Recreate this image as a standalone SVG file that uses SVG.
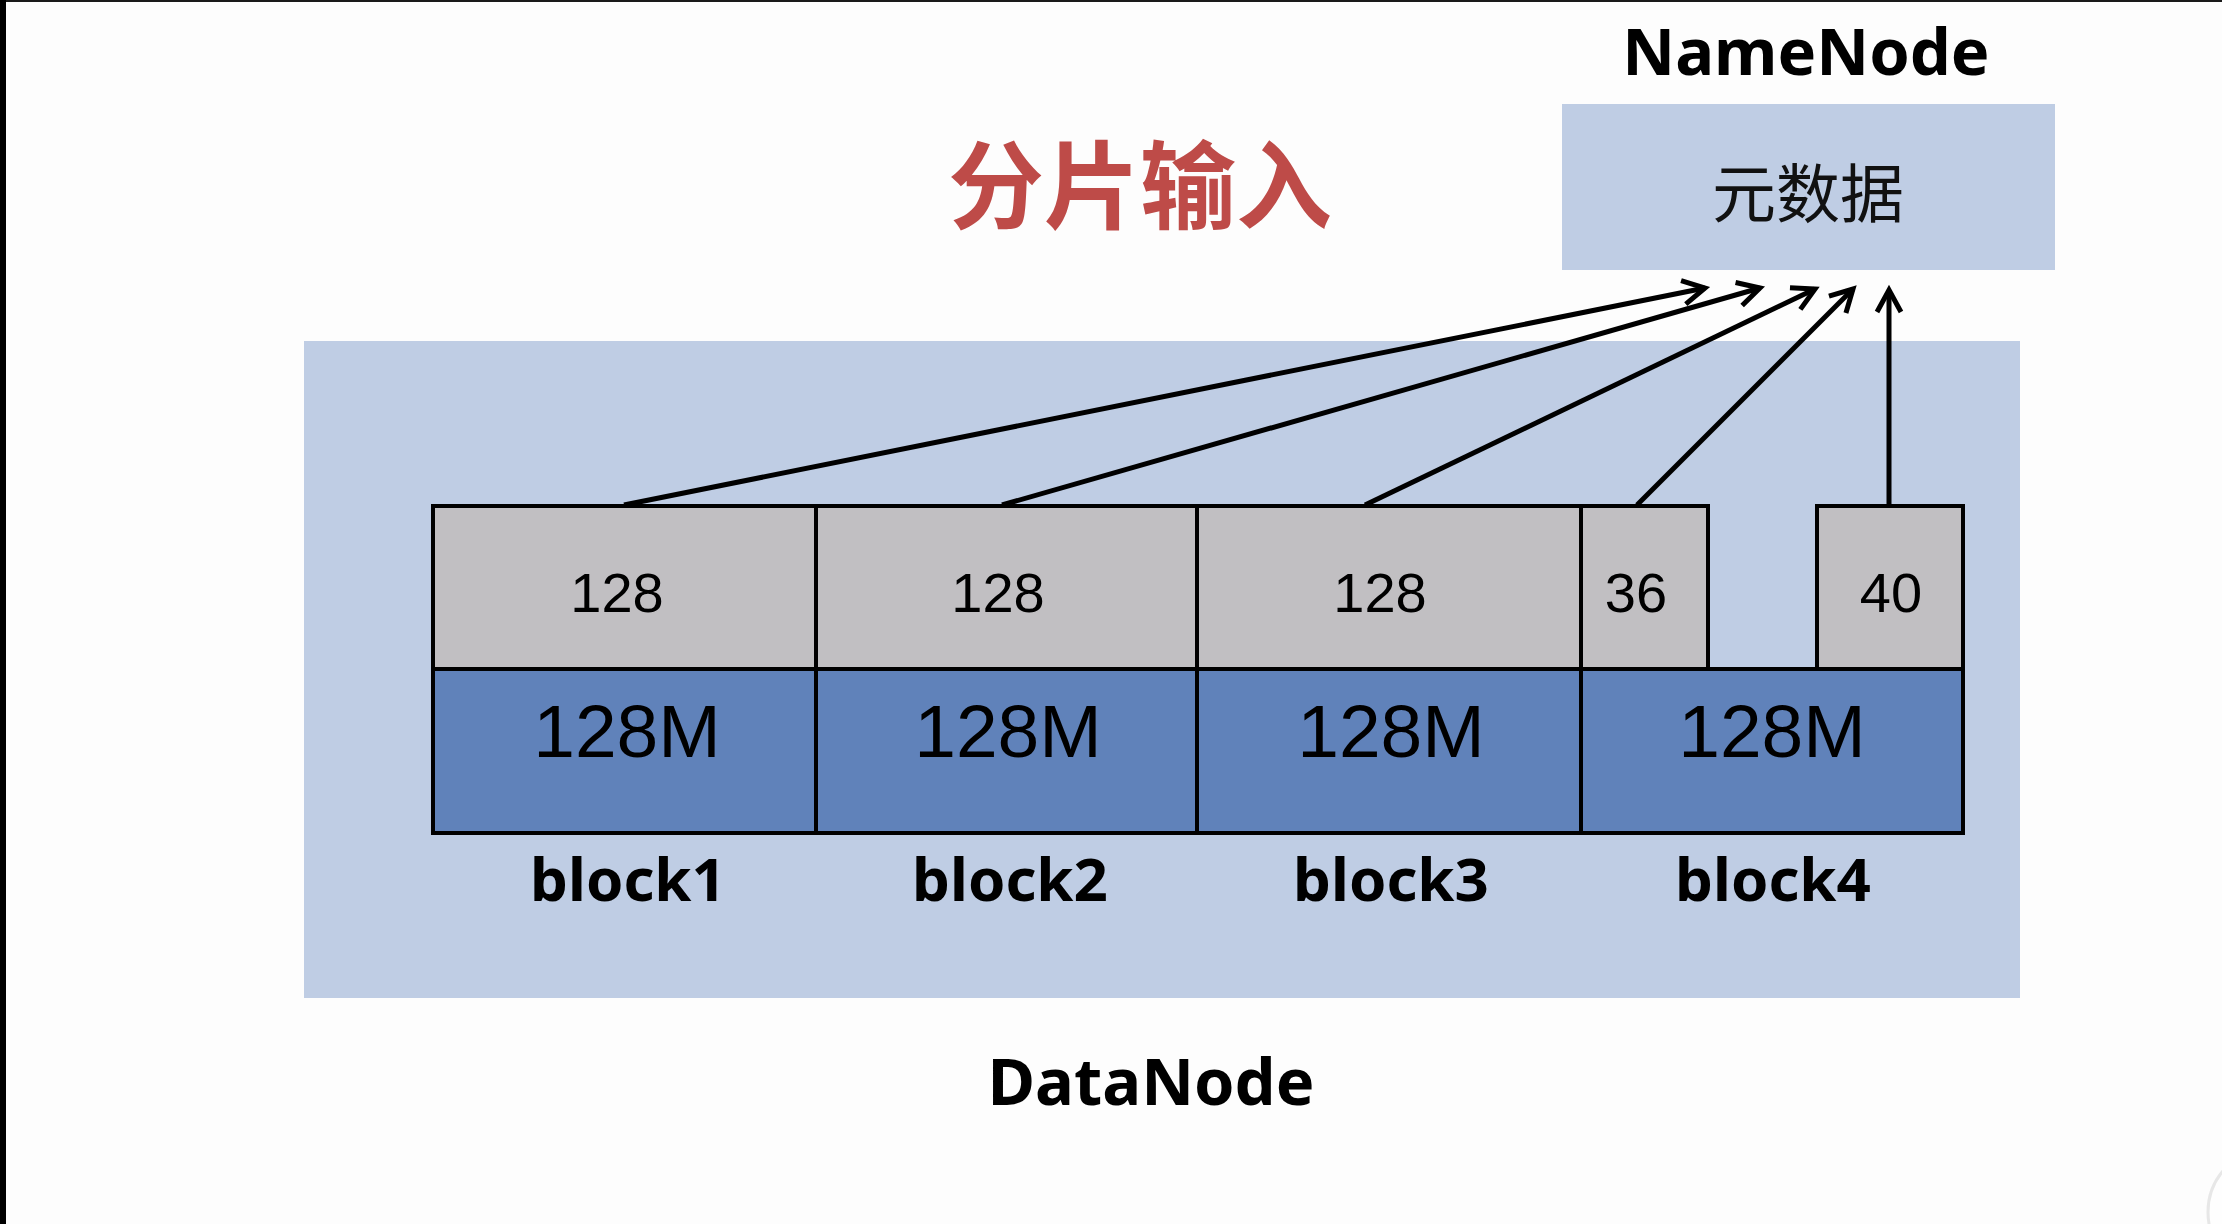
<svg xmlns="http://www.w3.org/2000/svg" width="2222" height="1224" viewBox="0 0 2222 1224">
  <defs>
    <style>
      .lbl { font-family: "Noto Sans", "Liberation Sans", sans-serif; font-weight: bold; fill: #000; text-anchor: middle; }
      .num { font-family: "Liberation Sans", Arial, sans-serif; fill: #000; text-anchor: middle; }
      .cjk { font-family: "Noto Sans CJK SC", sans-serif; text-anchor: middle; }
      .top { fill: #C1BFC2; stroke: #000; stroke-width: 4; }
      .bot { fill: #6082BA; stroke: #000; stroke-width: 4; }
      .conn { stroke: #000; stroke-width: 5; fill: none; marker-end: url(#arr); }
    </style>
    <marker id="arr" markerUnits="userSpaceOnUse" viewBox="-3 -17 32 34" refX="22" refY="0" markerWidth="32" markerHeight="34" orient="auto">
      <path d="M0,-12 L22,0 L0,12" fill="none" stroke="#000" stroke-width="5" stroke-linejoin="miter"/>
    </marker>
  </defs>
  <rect x="0" y="0" width="2222" height="1224" fill="#FDFDFD"/>
  <rect x="0" y="0" width="2222" height="2" fill="#1A1A1A"/>
  <rect x="0" y="0" width="6" height="1224" fill="#000"/>
  <circle cx="2272" cy="1212" r="64" fill="#FFFFFF" stroke="#E2E2E2" stroke-width="3" opacity="0.8"/>

  <g id="title">
    <text class="cjk" x="1140" y="221" font-size="96" font-weight="bold" fill="#BE4B48">分片输入</text>
  </g>

  <g id="namenode">
    <text class="lbl" x="1806" y="75" font-size="65">NameNode</text>
    <rect x="1562" y="104" width="493" height="166" fill="#BFCDE4"/>
    <text class="cjk" x="1808" y="217" font-size="64" fill="#111">元数据</text>
  </g>

  <g id="datanode">
    <rect x="304" y="341" width="1716" height="657" fill="#BFCDE4"/>
    <text class="lbl" x="1151" y="1105" font-size="65">DataNode</text>
  </g>

  <g id="block1">
    <rect class="top" x="433" y="506" width="383" height="163"/>
    <rect class="bot" x="433" y="669" width="383" height="164"/>
    <text class="num" x="617" y="612" font-size="56">128</text>
    <text class="num" x="627" y="757" font-size="75">128M</text>
    <text class="lbl" x="628" y="901" font-size="60">block1</text>
  </g>
  <g id="block2">
    <rect class="top" x="816" y="506" width="381" height="163"/>
    <rect class="bot" x="816" y="669" width="381" height="164"/>
    <text class="num" x="998" y="612" font-size="56">128</text>
    <text class="num" x="1008" y="757" font-size="75">128M</text>
    <text class="lbl" x="1010" y="901" font-size="60">block2</text>
  </g>
  <g id="block3">
    <rect class="top" x="1197" y="506" width="384" height="163"/>
    <rect class="bot" x="1197" y="669" width="384" height="164"/>
    <text class="num" x="1380" y="612" font-size="56">128</text>
    <text class="num" x="1391" y="757" font-size="75">128M</text>
    <text class="lbl" x="1391" y="901" font-size="60">block3</text>
  </g>
  <g id="block4">
    <rect class="bot" x="1581" y="669" width="382" height="164"/>
    <rect class="top" x="1581" y="506" width="127" height="163"/>
    <rect class="top" x="1817" y="506" width="146" height="163"/>
    <text class="num" x="1636" y="612" font-size="56">36</text>
    <text class="num" x="1891" y="612" font-size="56">40</text>
    <text class="num" x="1772" y="757" font-size="75">128M</text>
    <text class="lbl" x="1773" y="901" font-size="60">block4</text>
  </g>

  <g id="connectors">
    <line class="conn" x1="624" y1="505" x2="1705" y2="288"/>
    <line class="conn" x1="1002" y1="505" x2="1760" y2="288"/>
    <line class="conn" x1="1365" y1="505" x2="1815" y2="289"/>
    <line class="conn" x1="1637" y1="505" x2="1853" y2="289"/>
    <line class="conn" x1="1889" y1="505" x2="1889" y2="290"/>
  </g>
</svg>
